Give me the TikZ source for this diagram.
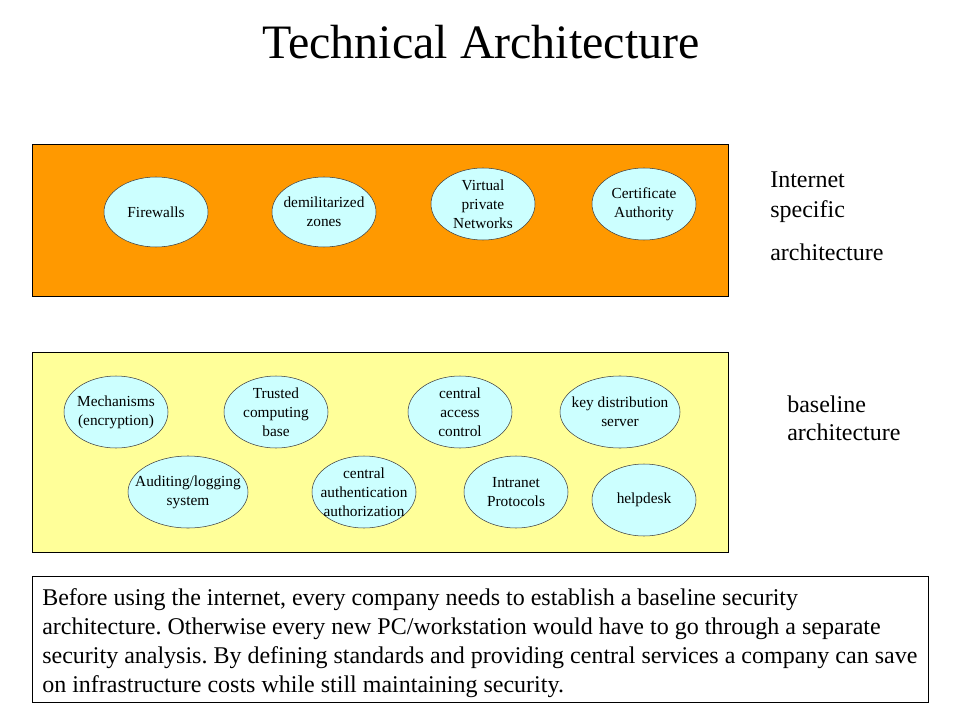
\documentclass[tikz,border=0pt]{standalone}
\usepackage{fontspec}
\setmainfont{Liberation Serif}
\usetikzlibrary{shapes.geometric}
\definecolor{bandorange}{HTML}{FF9900}
\definecolor{bandyellow}{HTML}{FFFF99}
\definecolor{bubblecyan}{HTML}{CCFFFF}
\tikzset{
  band/.style={draw, minimum width=522pt, inner sep=0pt},
  bubble/.style={ellipse, draw=black!75, fill=bubblecyan, inner sep=0pt,
    minimum width=78pt, minimum height=54pt},
  bubtext/.style={font=\fontsize{11.5}{14.25}\selectfont, align=center, inner sep=0pt},
  side/.style={font=\fontsize{18}{22.5}\selectfont, align=left, anchor=north west, inner sep=0pt}
}
\frenchspacing

\begin{document}
\begin{tikzpicture}[x=0.75pt, y=-0.75pt]
    \useasboundingbox (0,0) rectangle (960,720);
    \node[font=\fontsize{36}{40}\selectfont, anchor=base] (title) at (481,59) {Technical Architecture};

    % internet specific band
    \node[band, fill=bandorange, minimum height=114pt] (inet) at (380,220) {};
    \node[bubble, minimum height=52.5pt, label={[bubtext]center:Firewalls}] (fw) at (156,212) {};
    \node[bubble, minimum height=52.5pt, label={[bubtext]center:{demilitarized\\zones}}] (dmz) at (324,212) {};
    \node[bubble, label={[bubtext]center:{Virtual\\private\\Networks}}] (vpn) at (483,204) {};
    \node[bubble, label={[bubtext]center:{Certificate\\Authority}}] (ca) at (644,204) {};
    \node[side] (inetlbl) at (770,172) {Internet\\specific\\[9.5pt]architecture};

    % baseline band
    \node[band, fill=bandyellow, minimum height=150pt] (base) at (380,452) {};
    \node[bubble, label={[bubtext]center:{Mechanisms\\(encryption)}}] (mech) at (116,412) {};
    \node[bubble, label={[bubtext]center:{Trusted\\computing\\base}}] (tcb) at (276,412) {};
    \node[bubble, label={[bubtext]center:{central\\access\\control}}] (cac) at (460,412) {};
    \node[bubble, minimum width=90pt, label={[bubtext]center:{key distribution\\server}}] (kds) at (620,412) {};
    \node[bubble, minimum width=90pt, label={[bubtext]center:{Auditing/logging\\system}}] (audit) at (188,492) {};
    \node[bubble, label={[bubtext]center:{central\\authentication\\authorization}}] (auth) at (364,492) {};
    \node[bubble, label={[bubtext]center:{Intranet\\Protocols}}] (intra) at (516,492) {};
    \node[bubble, label={[bubtext]center:helpdesk}] (help) at (644,500) {};
    \node[side] (baselbl) at (787,396) {baseline\\[-1.5pt]architecture};

    % note at the bottom
    \node[draw, minimum width=672pt, minimum height=94.5pt, inner sep=0pt] (notebox) at (480,639) {};
    \node[anchor=north west, inner sep=0pt, align=left, font=\fontsize{18}{21.75}\selectfont] (note) at (42,588)
      {Before using the internet, every company needs to establish a baseline security\\
       architecture. Otherwise every new PC/workstation would have to go through a separate\\
       security analysis. By defining standards and providing central services a company can save\\
       on infrastructure costs while still maintaining security.};
\end{tikzpicture}
\end{document}
